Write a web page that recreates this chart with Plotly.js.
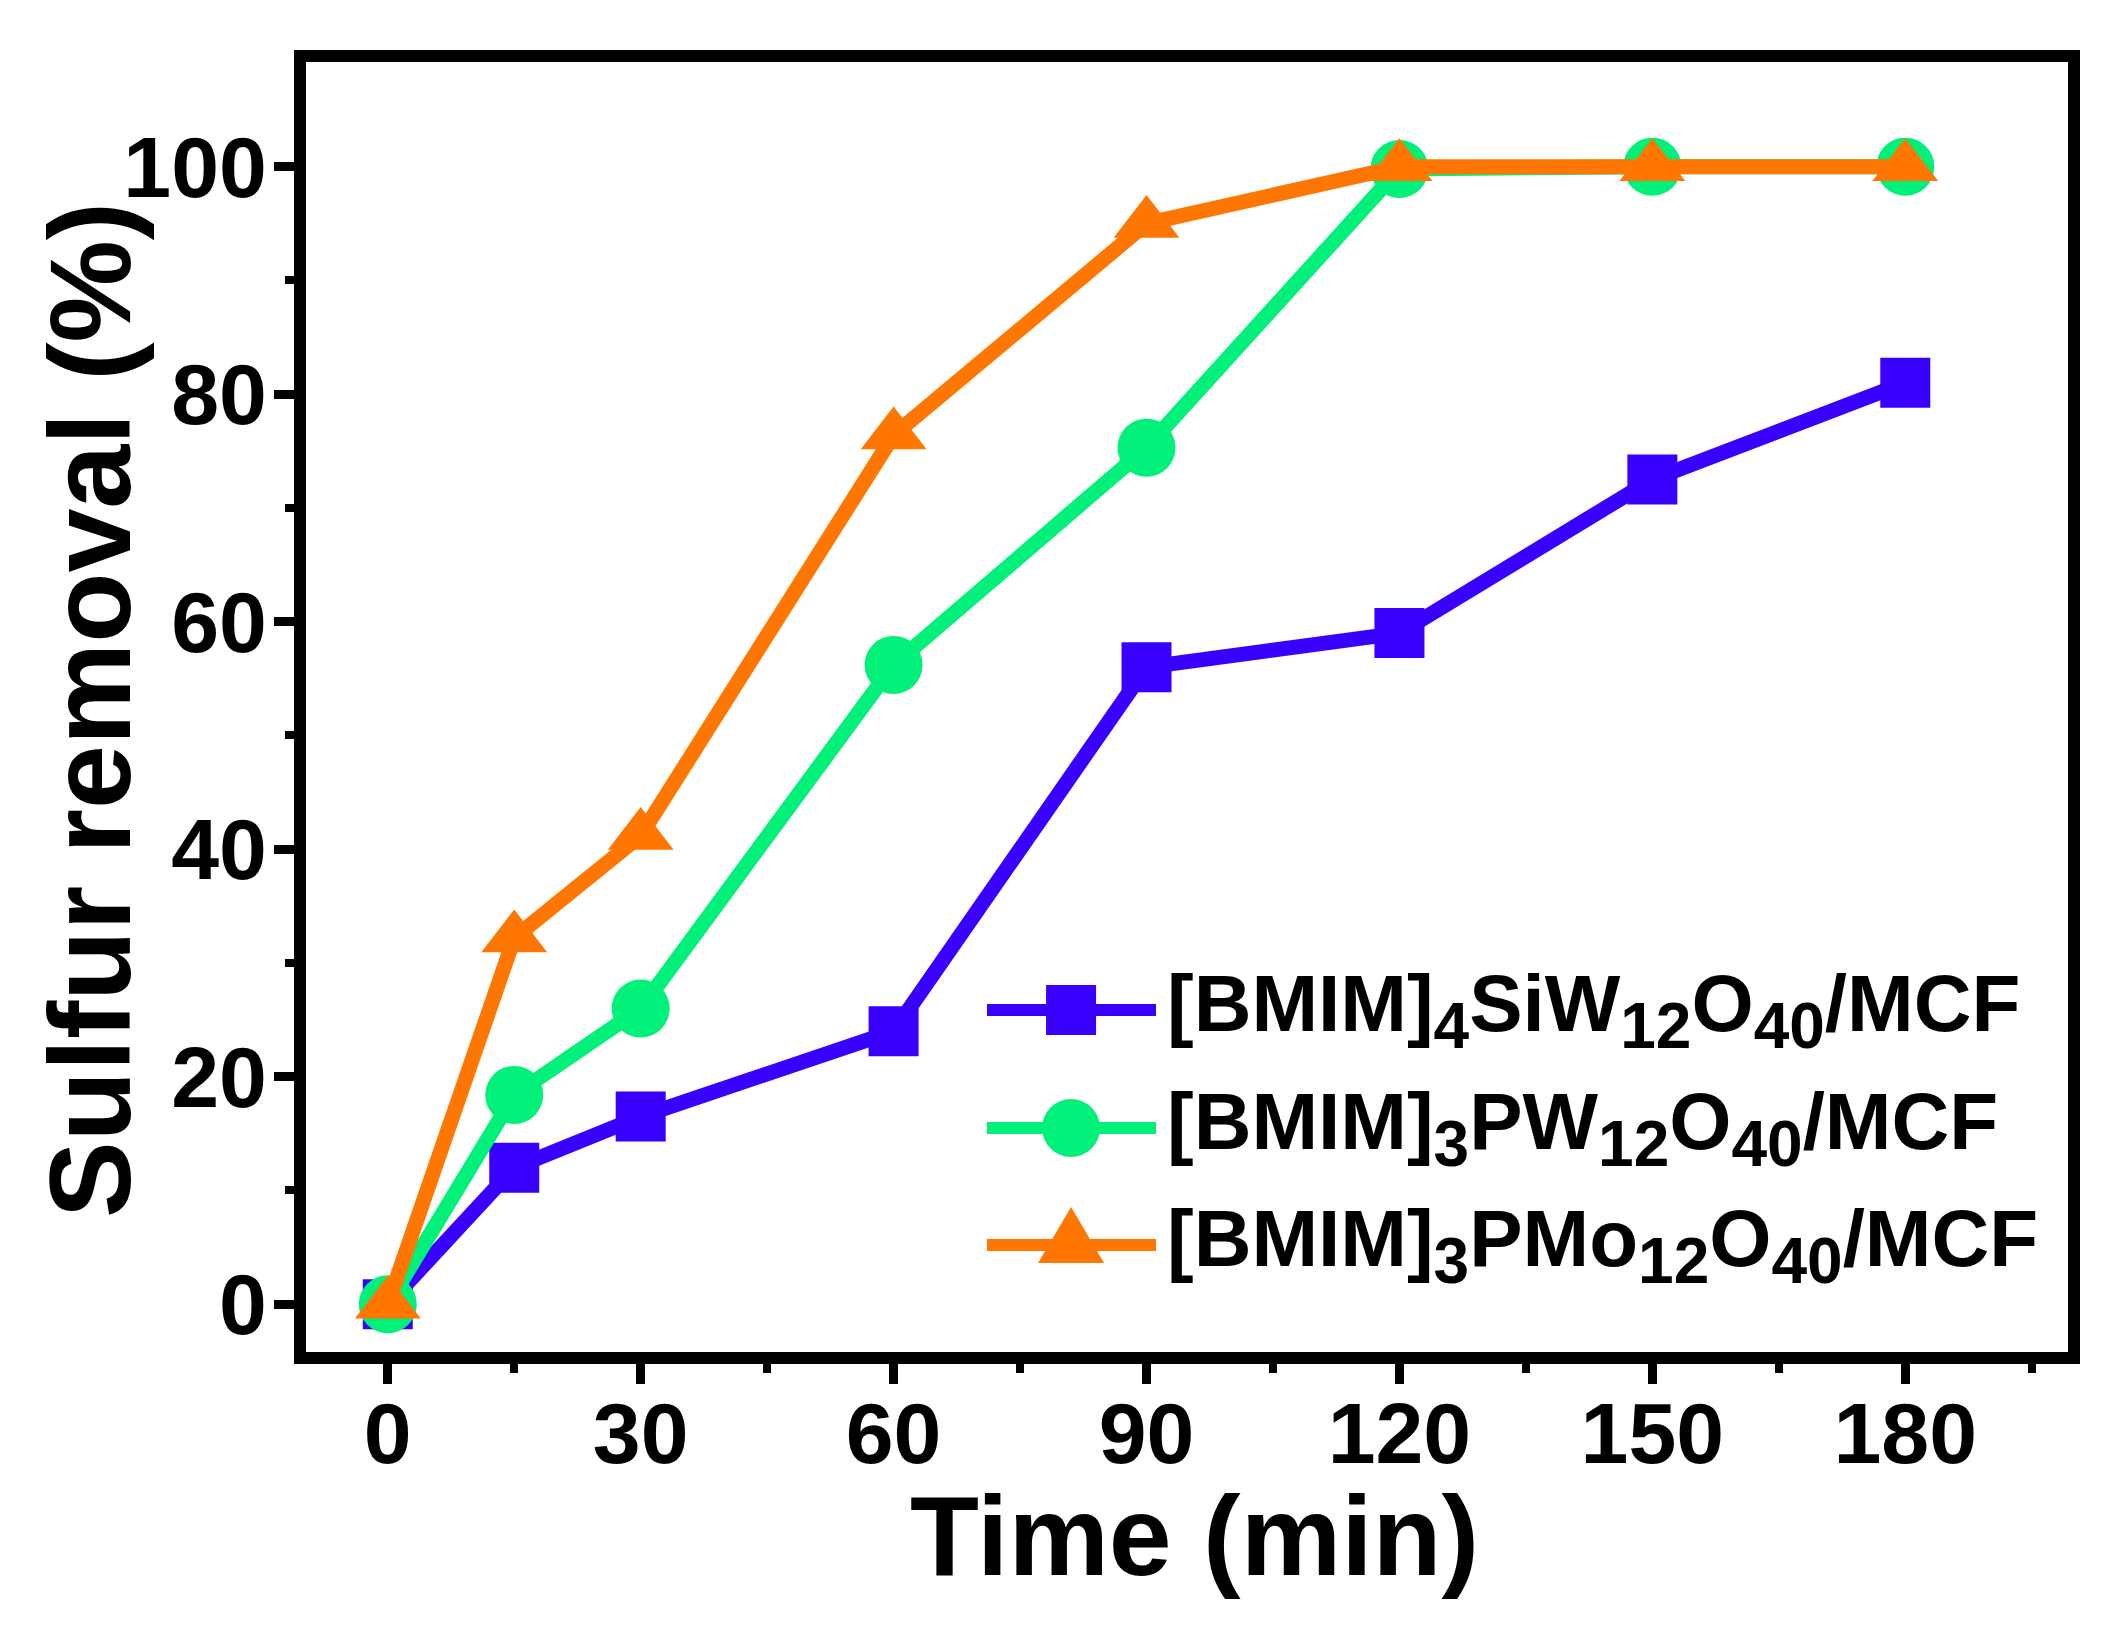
<!DOCTYPE html>
<html>
<head>
<meta charset="utf-8">
<script src="https://cdn.plot.ly/plotly-3.0.1.min.js"></script>
<style>html,body{margin:0;padding:0;background:#fff}</style>
</head>
<body>
<div id="chart" style="width:2120px;height:1640px"></div>
<script>
// sulfur removal vs time, three catalysts
var time = [0, 15, 30, 60, 90, 120, 150, 180];
var siwRemoval = [0, 12, 16.5, 24, 56, 59, 72.5, 81];
var pwRemoval = [0, 18.4, 26, 56.2, 75.3, 99.8, 100, 100];
var pmoRemoval = [0, 32.2, 41.2, 76.4, 95, 100, 100, 100];

var SUB = function (s) { return '<sub><span style="font-size:64px">' + s + '</span></sub>'; };
var seriesNames = [
    '[BMIM]' + SUB('4') + 'SiW' + SUB('12') + 'O' + SUB('40') + '/MCF',
    '[BMIM]' + SUB('3') + 'PW' + SUB('12') + 'O' + SUB('40') + '/MCF',
    '[BMIM]' + SUB('3') + 'PMo' + SUB('12') + 'O' + SUB('40') + '/MCF'
];
var xTicks = [0, 30, 60, 90, 120, 150, 180];
var yTicks = [0, 20, 40, 60, 80, 100];

var colors = ['#3a00ff', '#00f07a', '#ff7700'];
var symbols = ['square', 'circle', 'triangle-up'];
var sizes = [50, 58, 57];
var allY = [siwRemoval, pwRemoval, pmoRemoval];

var FONT = 'Liberation Sans, Arial, sans-serif';

var traces = allY.map(function (ys, i) {
    return {
        x: time,
        y: ys,
        type: 'scatter',
        mode: 'lines+markers',
        name: seriesNames[i],
        line: {color: colors[i], width: 15},
        marker: {symbol: symbols[i], size: sizes[i], color: colors[i], line: {width: 0}},
        cliponaxis: false
    };
});

// hand-made legend (plotly caps legend marker size), rows in paper coords
var legRowY = [0.2651, 0.1736, 0.0829];
var legLineX = [0.3865, 0.4824];
var legMarkX = 0.4342;
var legTextX = 0.4876;

var shapes = [];
var annotations = [];
legRowY.forEach(function (y, i) {
    shapes.push({
        type: 'line', xref: 'paper', yref: 'paper',
        x0: legLineX[0], x1: legLineX[1], y0: y, y1: y,
        line: {color: colors[i], width: 12}
    });
    var mk = {
        xref: 'paper', yref: 'paper', xsizemode: 'pixel', ysizemode: 'pixel',
        xanchor: legMarkX, yanchor: y, fillcolor: colors[i], line: {width: 0}
    };
    if (symbols[i] === 'square') {
        mk.type = 'rect'; mk.x0 = -25; mk.x1 = 25; mk.y0 = -25; mk.y1 = 25;
    } else if (symbols[i] === 'circle') {
        mk.type = 'circle'; mk.x0 = -29; mk.x1 = 29; mk.y0 = -29; mk.y1 = 29;
    } else {
        mk.type = 'path'; mk.path = 'M-33,-18 L33,-18 L0,38 Z';
    }
    shapes.push(mk);
    annotations.push({
        text: seriesNames[i], xref: 'paper', yref: 'paper', x: legTextX, y: y,
        xanchor: 'left', yanchor: 'middle', showarrow: false,
        font: {family: FONT, size: 80, color: '#000', weight: 'bold'}
    });
});

annotations.push({
    text: 'Time (min)', xref: 'paper', yref: 'paper', x: 0.5045, y: 0,
    xanchor: 'center', yanchor: 'middle', yshift: -184, showarrow: false,
    font: {family: FONT, size: 113, color: '#000', weight: 'bold'}
});
annotations.push({
    text: 'Sulfur removal (%)', xref: 'paper', yref: 'paper', x: 0, y: 0.4977,
    xanchor: 'center', yanchor: 'middle', xshift: -216, textangle: -90, showarrow: false,
    font: {family: FONT, size: 115, color: '#000', weight: 'bold'}
});

var axisCommon = {
    showline: true,
    linewidth: 12,
    linecolor: '#000',
    mirror: true,
    showgrid: false,
    zeroline: false,
    ticks: 'outside',
    ticklen: 20,
    tickwidth: 9,
    tickcolor: '#000',
    tickfont: {family: FONT, size: 86, color: '#000', weight: 'bold'}
};

var layout = {
    width: 2120,
    height: 1640,
    paper_bgcolor: '#fff',
    plot_bgcolor: '#fff',
    margin: {l: 306, r: 52, t: 62, b: 288},
    showlegend: false,
    xaxis: Object.assign({}, axisCommon, {
        range: [-9.7, 199.3],
        tickvals: xTicks,
        ticklabelstandoff: -24,
        minor: {dtick: 15, tick0: 0, ticks: 'outside', ticklen: 9, tickwidth: 8, tickcolor: '#000'}
    }),
    yaxis: Object.assign({}, axisCommon, {
        range: [-4.2, 109.2],
        tickvals: yTicks,
        ticklabelstandoff: -10,
        minor: {dtick: 10, tick0: 0, ticks: 'outside', ticklen: 9, tickwidth: 8, tickcolor: '#000'}
    }),
    shapes: shapes,
    annotations: annotations
};

Plotly.newPlot('chart', traces, layout, {displayModeBar: false, staticPlot: true});
</script>
</body>
</html>
